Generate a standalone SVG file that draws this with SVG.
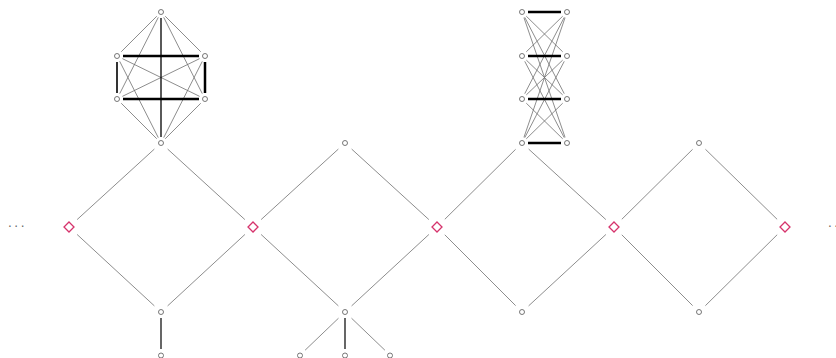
<svg xmlns="http://www.w3.org/2000/svg" width="836" height="358" viewBox="0 0 836 358">
<style>
.g{stroke:#707070;stroke-width:0.8;fill:none}
.k{stroke:#000;fill:none}
.n{fill:#fff;stroke:#555;stroke-width:0.8}
.d{fill:#fff;stroke:#d6336c;stroke-width:1.3}
.t{font-family:"DejaVu Sans",sans-serif;font-size:12px;fill:#666;letter-spacing:2.5px}
</style>
<rect width="836" height="358" fill="#fff"/>
<g id="connectors">
<g class="g">
<line x1="154.35" y1="149.07" x2="77.12" y2="219.58"/>
<line x1="154.39" y1="305.89" x2="77.08" y2="234.46"/>
<line x1="167.65" y1="149.07" x2="244.88" y2="219.58"/>
<line x1="167.61" y1="305.89" x2="244.92" y2="234.46"/>
<line x1="338.35" y1="149.07" x2="261.12" y2="219.58"/>
<line x1="338.39" y1="305.89" x2="261.08" y2="234.46"/>
<line x1="351.65" y1="149.07" x2="428.88" y2="219.58"/>
<line x1="351.61" y1="305.89" x2="428.92" y2="234.46"/>
<line x1="515.6" y1="149.33" x2="444.82" y2="219.27"/>
<line x1="515.64" y1="305.64" x2="444.78" y2="234.78"/>
<line x1="528.65" y1="149.07" x2="605.88" y2="219.58"/>
<line x1="528.61" y1="305.89" x2="605.92" y2="234.46"/>
<line x1="692.6" y1="149.33" x2="621.82" y2="219.27"/>
<line x1="692.64" y1="305.64" x2="621.78" y2="234.78"/>
<line x1="705.44" y1="149.29" x2="777.13" y2="219.31"/>
<line x1="705.4" y1="305.67" x2="777.18" y2="234.73"/>
<line x1="338.5" y1="318.2" x2="305.1" y2="350.2"/>
<line x1="351.5" y1="318.2" x2="384.9" y2="350.2"/>
<!-- K6 -->
<line x1="156.76" y1="16.24" x2="121.24" y2="51.76"/>
<line x1="165.24" y1="16.24" x2="200.76" y2="51.76"/>
<line x1="158.29" y1="17.35" x2="119.71" y2="93.65"/>
<line x1="163.71" y1="17.35" x2="202.29" y2="93.65"/>
<line x1="156.76" y1="138.76" x2="121.24" y2="103.24"/>
<line x1="165.24" y1="138.76" x2="200.76" y2="103.24"/>
<line x1="158.29" y1="137.65" x2="119.71" y2="61.35"/>
<line x1="163.71" y1="137.65" x2="202.29" y2="61.35"/>
<line x1="122.39" y1="58.63" x2="199.61" y2="96.37"/>
<line x1="199.61" y1="58.63" x2="122.39" y2="96.37"/>
<!-- K4,4 -->
<line x1="526.29" y1="16.19" x2="562.71" y2="51.81"/>
<line x1="524.76" y1="17.33" x2="564.24" y2="93.67"/>
<line x1="523.95" y1="17.67" x2="565.05" y2="137.33"/>
<line x1="526.29" y1="51.81" x2="562.71" y2="16.19"/>
<line x1="526.34" y1="60.15" x2="562.66" y2="94.85"/>
<line x1="524.76" y1="61.33" x2="564.24" y2="137.67"/>
<line x1="524.76" y1="93.67" x2="564.24" y2="17.33"/>
<line x1="526.34" y1="94.85" x2="562.66" y2="60.15"/>
<line x1="526.29" y1="103.19" x2="562.71" y2="138.81"/>
<line x1="523.95" y1="137.33" x2="565.05" y2="17.67"/>
<line x1="524.76" y1="137.67" x2="564.24" y2="61.33"/>
<line x1="526.29" y1="138.81" x2="562.71" y2="103.19"/>
</g>
<g class="k">
<line x1="161" y1="318" x2="161" y2="349" stroke-width="1.2"/>
<line x1="345" y1="318" x2="345" y2="349" stroke-width="1.2"/>
<line x1="123" y1="56" x2="199" y2="56" stroke-width="2.5"/>
<line x1="123" y1="99" x2="199" y2="99" stroke-width="2.5"/>
<line x1="117" y1="62" x2="117" y2="93" stroke-width="1.6"/>
<line x1="205" y1="62" x2="205" y2="93" stroke-width="2.5"/>
<line x1="161" y1="18" x2="161" y2="137" stroke-width="1.3"/>
<line x1="528" y1="12" x2="561" y2="12" stroke-width="2.5"/>
<line x1="528" y1="56" x2="561" y2="56" stroke-width="2.5"/>
<line x1="528" y1="99" x2="561" y2="99" stroke-width="2.5"/>
<line x1="528" y1="143" x2="561" y2="143" stroke-width="2.5"/>
</g>
</g>
<g id="k6">
<circle class="n" cx="161" cy="12" r="2.5"/>
<circle class="n" cx="117" cy="56" r="2.5"/>
<circle class="n" cx="205" cy="56" r="2.5"/>
<circle class="n" cx="117" cy="99" r="2.5"/>
<circle class="n" cx="205" cy="99" r="2.5"/>
</g>
<g id="k44">
<circle class="n" cx="522" cy="12" r="2.5"/>
<circle class="n" cx="567" cy="12" r="2.5"/>
<circle class="n" cx="522" cy="56" r="2.5"/>
<circle class="n" cx="567" cy="56" r="2.5"/>
<circle class="n" cx="522" cy="99" r="2.5"/>
<circle class="n" cx="567" cy="99" r="2.5"/>
<circle class="n" cx="567" cy="143" r="2.5"/>
</g>
<g id="n1"><circle class="n" cx="161" cy="143" r="2.5"/></g>
<g id="n2"><circle class="n" cx="345" cy="143" r="2.5"/></g>
<g id="n3"><circle class="n" cx="522" cy="143" r="2.5"/></g>
<g id="n4"><circle class="n" cx="699" cy="143" r="2.5"/></g>
<g id="n5"><circle class="n" cx="161" cy="312" r="2.5"/></g>
<g id="n6"><circle class="n" cx="345" cy="312" r="2.5"/></g>
<g id="n7"><circle class="n" cx="522" cy="312" r="2.5"/></g>
<g id="n8"><circle class="n" cx="699" cy="312" r="2.5"/></g>
<g id="b1"><circle class="n" cx="161" cy="355.5" r="2.5"/></g>
<g id="b2"><circle class="n" cx="300" cy="355.5" r="2.5"/></g>
<g id="b3"><circle class="n" cx="345" cy="355.5" r="2.5"/></g>
<g id="b4"><circle class="n" cx="390" cy="355.5" r="2.5"/></g>
<g id="d1"><polygon class="d" points="69,222 74,227 69,232 64,227"/></g>
<g id="d2"><polygon class="d" points="253,222 258,227 253,232 248,227"/></g>
<g id="d3"><polygon class="d" points="437,222 442,227 437,232 432,227"/></g>
<g id="d4"><polygon class="d" points="614,222 619,227 614,232 609,227"/></g>
<g id="d5"><polygon class="d" points="785,222 790,227 785,232 780,227"/></g>
<text class="t" x="8" y="231">···</text>
<text class="t" x="828" y="231">···</text>
</svg>
